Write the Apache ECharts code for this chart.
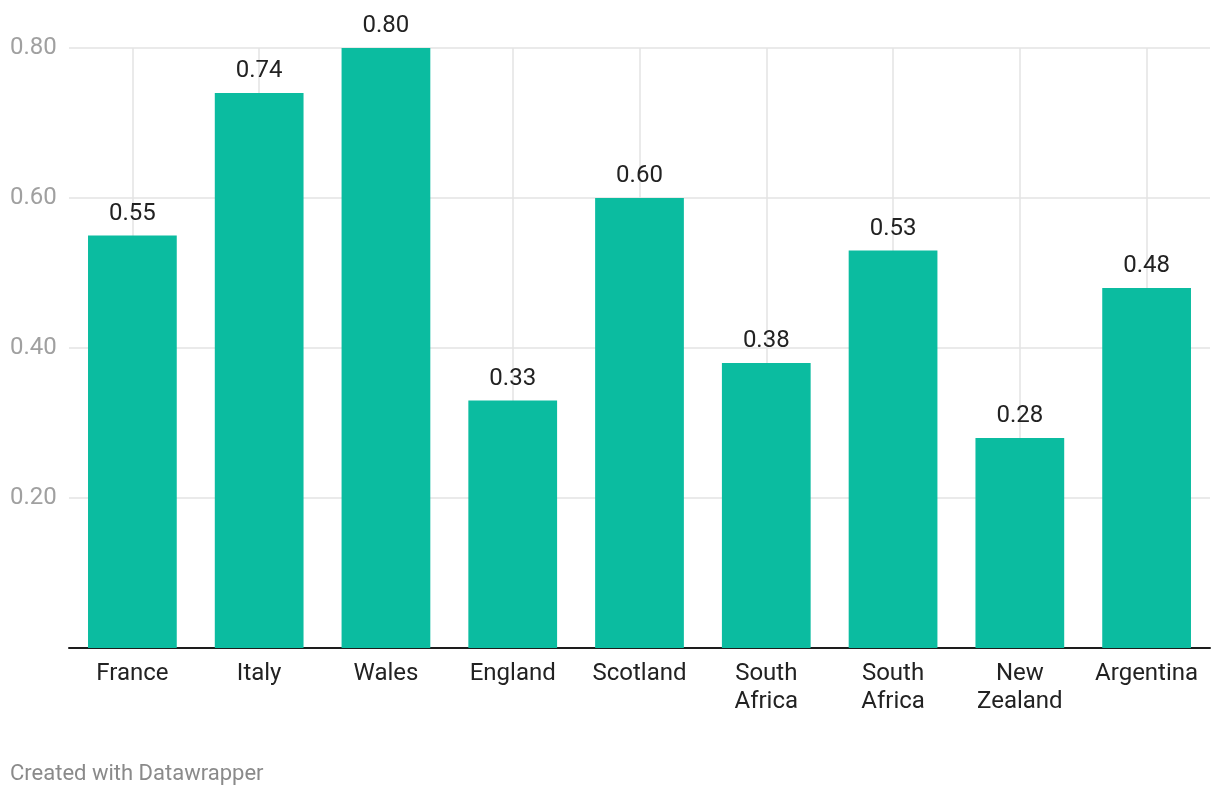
<!DOCTYPE html>
<html>
<head>
<meta charset="utf-8">
<script src="https://cdn.jsdelivr.net/npm/echarts@6/dist/echarts.min.js"></script>
<style>
html,body{margin:0;padding:0;background:#fff;}
#chart{width:1220px;height:796px;}
</style>
</head>
<body>
<div id="chart"></div>
<script>
const categories = ['France', 'Italy', 'Wales', 'England', 'Scotland', 'South\nAfrica', 'South\nAfrica', 'New\nZealand', 'Argentina'];
const values = [0.55, 0.74, 0.80, 0.33, 0.60, 0.38, 0.53, 0.28, 0.48];
const yTicks = [0, 0.2, 0.4, 0.6, 0.8];
const footer = 'Created with Datawrapper';

const chart = echarts.init(document.getElementById('chart'), null, {renderer: 'canvas'});
const font = 'Roboto, sans-serif';
chart.setOption({
  animation: false,
  grid: {left: 69, right: 10, top: 48, bottom: 148},
  xAxis: {
    type: 'category',
    data: categories,
    axisLine: {show: true, lineStyle: {color: '#1d1d1d', width: 2}},
    axisTick: {show: false},
    splitLine: {show: false},
    axisLabel: {color: '#222', fontFamily: font, fontSize: 24, lineHeight: 28, margin: 12, interval: 0}
  },
  yAxis: {
    type: 'value',
    min: yTicks[0],
    max: yTicks[yTicks.length - 1],
    interval: 0.2,
    axisLine: {show: false},
    axisTick: {show: false},
    splitLine: {show: true, lineStyle: {color: '#e3e3e3', width: 1.5}},
    axisLabel: {
      color: '#a0a0a0', fontFamily: font, fontSize: 24, align: 'left', margin: 59,
      formatter: v => v === 0 ? '' : v.toFixed(2)
    }
  },
  series: [
    {
      type: 'line',
      data: [],
      z: 1,
      silent: true,
      markLine: {
        z: 1,
        silent: true,
        symbol: 'none',
        label: {show: false},
        lineStyle: {color: '#e3e3e3', width: 1.5, type: 'solid'},
        data: categories.map((c, i) => [{coord: [i, yTicks[0]]}, {coord: [i, yTicks[yTicks.length - 1]]}])
      }
    },
    {
      type: 'bar',
      data: values,
      z: 3,
      barWidth: '70%',
      itemStyle: {color: '#0bbca0'},
      label: {
        show: true, position: 'top', distance: 10,
        color: '#222', fontFamily: font, fontSize: 24,
        formatter: p => p.value.toFixed(2)
      }
    }
  ],
  graphic: [{
    type: 'text', left: 10, top: 763,
    style: {text: footer, fill: '#8a8a8a', font: '22px Roboto, sans-serif'}
  }]
});
</script>
</body>
</html>
